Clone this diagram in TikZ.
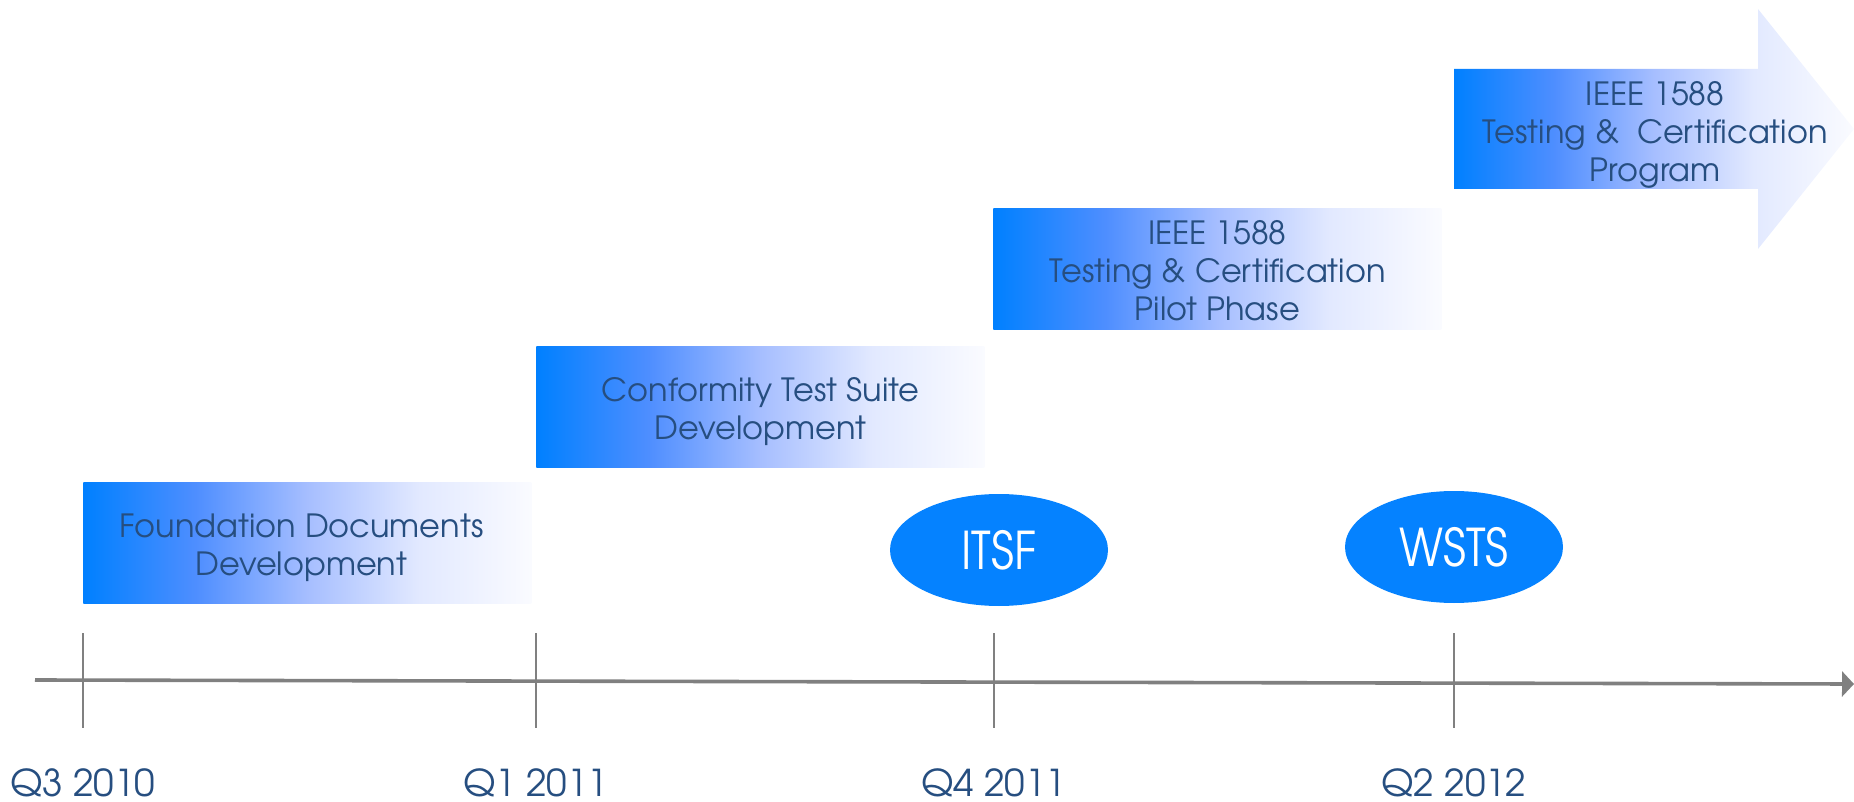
\documentclass[tikz,border=0pt]{standalone}
\usepackage{fontspec}
\setmainfont{TeX Gyre Adventor}
\newfontfamily\ovalfont[FakeStretch=0.88]{TeX Gyre Adventor}
\usetikzlibrary{shapes.geometric,arrows.meta}

\definecolor{phaseA}{HTML}{0080FF}
\definecolor{phaseB}{HTML}{4E8EFF}
\definecolor{phaseC}{HTML}{A6BEFF}
\definecolor{phaseD}{HTML}{E2E9FF}
\definecolor{phaseE}{HTML}{FAFBFF}
\definecolor{labelblue}{HTML}{264E80}
\definecolor{axisgray}{HTML}{808080}
\definecolor{ovalblue}{HTML}{0582FF}

\pgfdeclarehorizontalshading{phasefade}{100bp}{color(0bp)=(phaseA); color(25bp)=(phaseA); color(37.5bp)=(phaseB); color(50bp)=(phaseC); color(62.5bp)=(phaseD); color(75bp)=(phaseE); color(100bp)=(phaseE)}

\tikzset{
    phasebox/.style={shade, shading=phasefade, minimum width=224pt, minimum height=60.5pt,
        anchor=north west, inner sep=0pt},
    phasetext/.style={align=center, text=labelblue, inner sep=0pt,
        font=\fontsize{16}{19}\selectfont},
    event/.style={ellipse, fill=ovalblue, minimum width=109pt, minimum height=56pt,
        inner sep=0pt, text=white, font=\ovalfont\fontsize{26}{28}\selectfont},
    datelabel/.style={text=labelblue, font=\fontsize{18.5}{20}\selectfont},
    timeline/.style={axisgray, line width=1.8pt, -{Triangle[length=6pt,width=12.5pt]}},
    tickmark/.style={axisgray, line width=1.1pt}
}

\begin{document}
\begin{tikzpicture}[x=0.5pt,y=-0.5pt]
    \useasboundingbox (0,0) rectangle (1854,802);

    % Timeline:
    \coordinate (tlstart) at (35,680);
    \coordinate (tlend) at (1854,684);
    \draw [timeline] (tlstart) -- (tlend);

    % Ticks and dates:
    \foreach \x/\lab/\nm in {83/Q3 2010/qa, 536/Q1 2011/qb, 994/Q4 2011/qc, 1454/Q2 2012/qd}{%
        \coordinate (\nm top) at (\x,633);
        \coordinate (\nm bot) at (\x,728);
        \draw [tickmark] (\nm top) -- (\nm bot);
        \node [datelabel] (\nm) at (\x,783) {\lab};}

    % Phases:
    \node [phasebox] (foundation) at (83,482) {};
    \node [phasetext] (foundation text) at ([xshift=-3pt,yshift=-2.4pt]foundation.center)
        {Foundation Documents\\Development};
    \node [phasebox] (conformity) at (536,346) {};
    \node [phasetext] (conformity text) at ([yshift=-2.4pt]conformity.center)
        {Conformity Test Suite\\Development};
    \node [phasebox] (pilot) at (993,208) {};
    \node [phasetext] (pilot text) at ([yshift=-1pt]pilot.center)
        {IEEE 1588\\Testing \& Certification\\Pilot Phase};

    % The last phase is an arrow:
    \shade [shading=phasefade] (1454,69) -- (1758,69) -- (1758,9) -- (1854,129)
        -- (1758,249) -- (1758,189) -- (1454,189) -- cycle;
    \node [phasetext] (program) at (1655,135) {IEEE 1588\\Testing \& \ Certification\\Program};

    % Events:
    \node [event] (itsf) at (999,550) {ITSF};
    \node [event] (wsts) at (1454,547) {WSTS};
\end{tikzpicture}
\end{document}
